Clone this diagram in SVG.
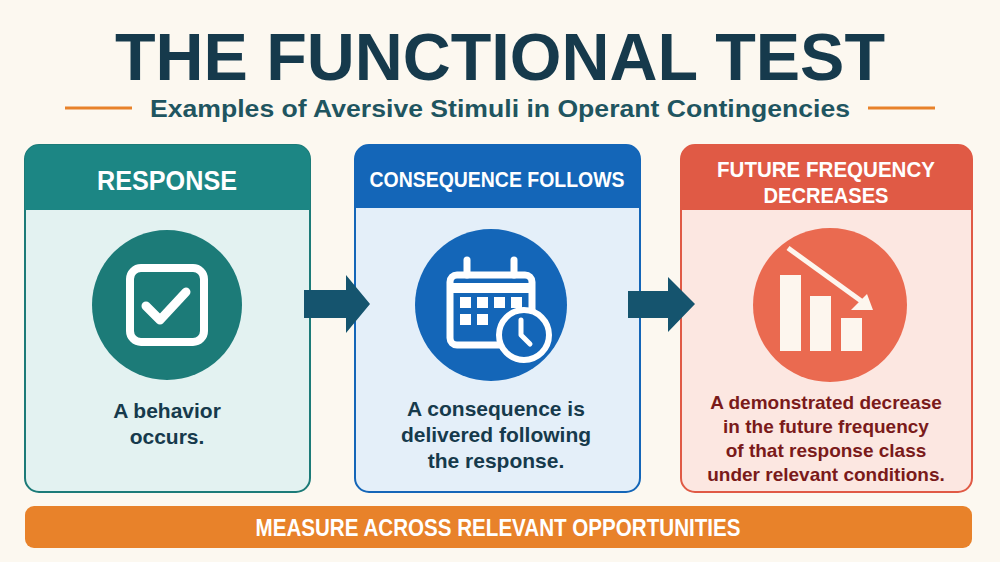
<svg xmlns="http://www.w3.org/2000/svg" width="1000" height="562" viewBox="0 0 1000 562">
<style>
.t{font-family:"Liberation Sans",Arial,sans-serif;font-weight:bold;text-anchor:middle}
.ic{fill:none;stroke:#fff;stroke-linecap:round;stroke-linejoin:round}
</style>
<rect width="1000" height="562" fill="#fcf8f0"/>
<text class="t" x="500" y="80" font-size="66" fill="#163a4c" textLength="770" lengthAdjust="spacingAndGlyphs">THE FUNCTIONAL TEST</text>
<line x1="65" y1="108" x2="132" y2="108" stroke="#e8822a" stroke-width="3"/>
<line x1="868" y1="108" x2="935" y2="108" stroke="#e8822a" stroke-width="3"/>
<text class="t" x="500" y="117" font-size="23" fill="#1f5560" textLength="700" lengthAdjust="spacingAndGlyphs">Examples of Aversive Stimuli in Operant Contingencies</text>

<g id="response">
<rect x="25" y="145" width="285" height="347" rx="14" fill="#e3f2f1" stroke="#1c7b78" stroke-width="2"/>
<path d="M25 210V159a14 14 0 0 1 14-14h257a14 14 0 0 1 14 14v51z" fill="#1c8684"/>
<text class="t" x="167" y="190" font-size="27" fill="#fff" textLength="140" lengthAdjust="spacingAndGlyphs">RESPONSE</text>
<circle cx="167" cy="305" r="75" fill="#1c7b78"/>
<rect x="130" y="268" width="74" height="74" rx="11" class="ic" stroke-width="8"/>
<path d="M146 306l14 14 26-28" class="ic" stroke-width="9"/>
<text class="t" x="167" y="418" font-size="21" fill="#163a4c">A behavior</text>
<text class="t" x="167" y="444" font-size="21" fill="#163a4c">occurs.</text>
</g>

<g id="consequence">
<rect x="355" y="145" width="285" height="347" rx="14" fill="#e4eff9" stroke="#1466b8" stroke-width="2"/>
<path d="M355 208V159a14 14 0 0 1 14-14h257a14 14 0 0 1 14 14v49z" fill="#1466b8"/>
<text class="t" x="497" y="187" font-size="22" fill="#fff" textLength="255" lengthAdjust="spacingAndGlyphs">CONSEQUENCE FOLLOWS</text>
<circle cx="491" cy="305" r="76" fill="#1466b8"/>
<rect x="450" y="275" width="82" height="70" rx="7" class="ic" stroke-width="7"/>
<line x1="450" y1="288" x2="532" y2="288" stroke="#fff" stroke-width="10"/>
<line x1="467" y1="260" x2="467" y2="275" class="ic" stroke-width="7"/>
<line x1="514" y1="260" x2="514" y2="275" class="ic" stroke-width="7"/>
<g fill="#fff"><rect x="460" y="297" width="11" height="11"/><rect x="477" y="297" width="11" height="11"/><rect x="494" y="297" width="11" height="11"/><rect x="511" y="297" width="11" height="11"/><rect x="460" y="314" width="11" height="11"/><rect x="477" y="314" width="11" height="11"/></g>
<circle cx="524" cy="335" r="25" fill="#1466b8" stroke="#fff" stroke-width="6"/>
<path d="M521 320v15l9 9" class="ic" stroke-width="5"/>
<text class="t" x="496" y="416" font-size="21" fill="#163a4c">A consequence is</text>
<text class="t" x="496" y="442" font-size="21" fill="#163a4c">delivered following</text>
<text class="t" x="496" y="468" font-size="21" fill="#163a4c">the response.</text>
</g>

<g id="decreases">
<rect x="681" y="145" width="291" height="347" rx="14" fill="#fce7e1" stroke="#e05a45" stroke-width="2"/>
<path d="M681 210V159a14 14 0 0 1 14-14h263a14 14 0 0 1 14 14v51z" fill="#e05a45"/>
<text class="t" x="826" y="177" font-size="22" fill="#fff" textLength="218" lengthAdjust="spacingAndGlyphs">FUTURE FREQUENCY</text>
<text class="t" x="826" y="203" font-size="22" fill="#fff" textLength="125" lengthAdjust="spacingAndGlyphs">DECREASES</text>
<circle cx="830" cy="305" r="77" fill="#ea6a50"/>
<g fill="#fdf6ee"><rect x="780" y="275" width="21" height="76"/><rect x="810" y="296" width="21" height="55"/><rect x="841" y="318" width="21" height="33"/></g>
<path d="M788 248l76 55" stroke="#fdf6ee" stroke-width="5"/>
<path d="M873 310l-22 0 16-16z" fill="#fdf6ee"/>
<text class="t" x="826" y="409" font-size="19" fill="#7a1a1a">A demonstrated decrease</text>
<text class="t" x="826" y="433" font-size="19" fill="#7a1a1a">in the future frequency</text>
<text class="t" x="826" y="457" font-size="19" fill="#7a1a1a">of that response class</text>
<text class="t" x="826" y="481" font-size="19" fill="#7a1a1a">under relevant conditions.</text>
</g>

<g id="connectors" fill="#15546e">
<path d="M304 290h42v-15l24 29-24 29v-15h-42z"/>
<path d="M628 291h40v-14l27 27-27 28v-14h-40z"/>
</g>

<g id="footer">
<rect x="25" y="506" width="947" height="42" rx="9" fill="#e8822a"/>
<text class="t" x="498" y="536" font-size="23" fill="#fff" textLength="485" lengthAdjust="spacingAndGlyphs">MEASURE ACROSS RELEVANT OPPORTUNITIES</text>
</g>
</svg>
